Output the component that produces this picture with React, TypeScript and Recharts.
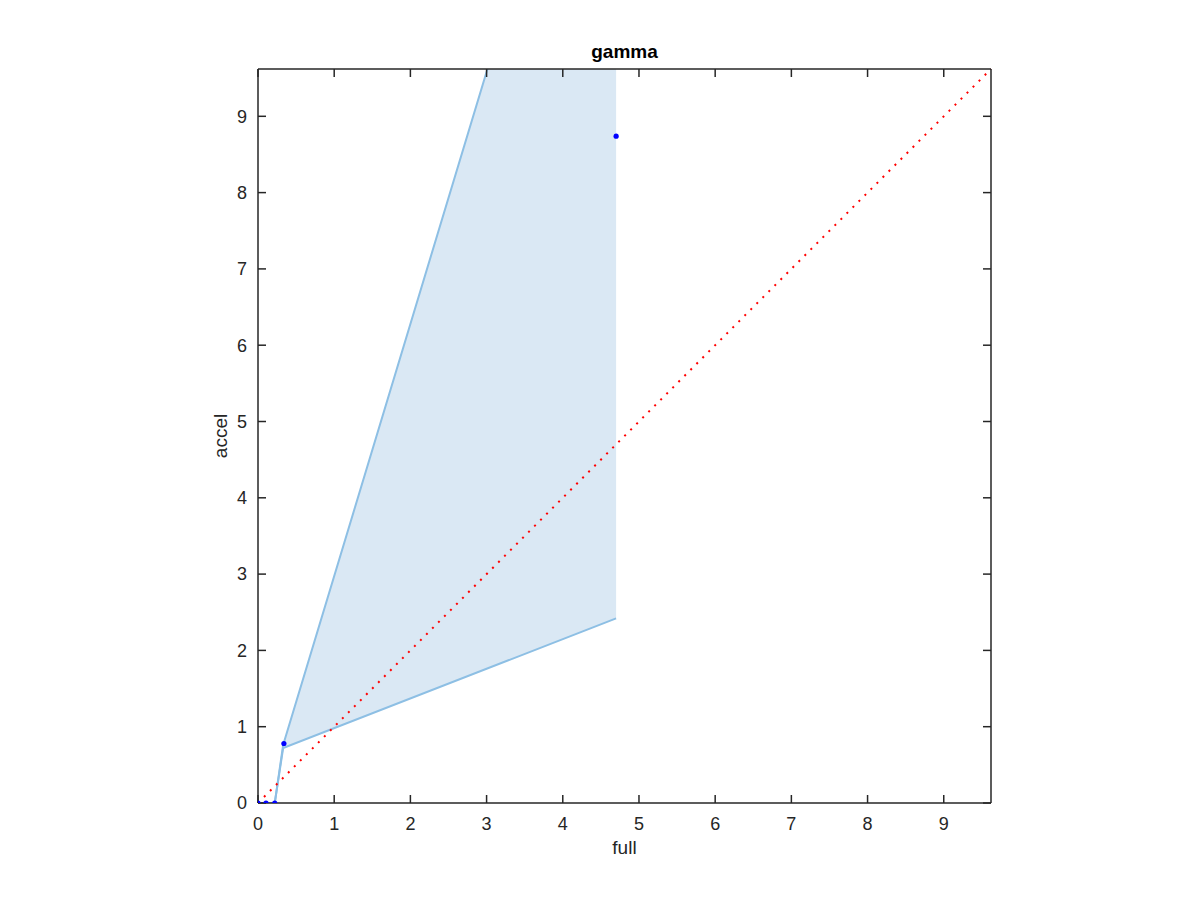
import {
  ComposedChart,
  XAxis,
  YAxis,
  Area,
  Line,
  Scatter,
  ReferenceLine,
} from 'recharts'

// band (confidence region)
const bandX = [0, 0.105, 0.22, 0.33, 4.7]
const bandLower = [0, 0, 0, 0.72, 2.42]
const bandUpper = [0, 0, 0, 0.76, 15.2]

// measured points
const pointX = [0, 0.105, 0.22, 0.34, 4.7]
const pointY = [0, 0, 0, 0.78, 8.74]

const ticks = [0, 1, 2, 3, 4, 5, 6, 7, 8, 9]
const axisMax = 9.62

const bandData = bandX.map((x, i) => ({ x, lo: bandLower[i], hi: bandUpper[i], range: [bandLower[i], bandUpper[i]] }))
const pointData = pointX.map((x, i) => ({ x, y: pointY[i] }))

const font = '"Liberation Sans", Arial, sans-serif'
const axisColor = '#262626'
const tickStyle = { fontSize: 18, fill: '#262626', fontFamily: font }

export default function App() {
  return (
    <div style={{ position: 'absolute', left: 0, top: 0, width: 1200, height: 900, background: '#fff' }}>
      <ComposedChart
        width={1200}
        height={900}
        data={bandData}
        margin={{ top: 59, left: 218, right: 199, bottom: 67 }}
      >
        <XAxis
          xAxisId="b"
          type="number"
          dataKey="x"
          domain={[0, axisMax]}
          ticks={ticks}
          allowDataOverflow
          height={30}
          stroke={axisColor}
          strokeWidth={1.5}
          tickSize={-8}
          tickMargin={22}
          tick={tickStyle}
          label={{ value: 'full', position: 'insideBottom', offset: -21, style: { fontSize: 19, fill: '#262626', fontFamily: font } }}
        />
        <XAxis
          xAxisId="t"
          orientation="top"
          type="number"
          dataKey="x"
          domain={[0, axisMax]}
          ticks={ticks}
          allowDataOverflow
          height={10}
          stroke={axisColor}
          strokeWidth={1.5}
          tickSize={-8}
          tickFormatter={() => ''}
          label={{ value: 'gamma', position: 'insideTop', offset: -14, style: { fontSize: 19, fontWeight: 'bold', fill: '#000', fontFamily: font } }}
        />
        <YAxis
          yAxisId="l"
          type="number"
          domain={[0, axisMax]}
          ticks={ticks}
          allowDataOverflow
          width={40}
          stroke={axisColor}
          strokeWidth={1.5}
          tickSize={-8}
          tickMargin={19}
          tick={tickStyle}
          label={{ value: 'accel', angle: -90, position: 'insideLeft', offset: 2, style: { fontSize: 19, fill: '#262626', fontFamily: font, textAnchor: 'middle' } }}
        />
        <YAxis
          yAxisId="r"
          orientation="right"
          type="number"
          domain={[0, axisMax]}
          ticks={ticks}
          allowDataOverflow
          width={10}
          stroke={axisColor}
          strokeWidth={1.5}
          tickSize={-8}
          tickFormatter={() => ''}
        />
        <Area
          xAxisId="b"
          yAxisId="l"
          dataKey="range"
          type="linear"
          fill="#dae8f4"
          fillOpacity={1}
          stroke="none"
          isAnimationActive={false}
        />
        <Line xAxisId="b" yAxisId="l" dataKey="lo" type="linear" stroke="#8dbfe4" strokeWidth={2} dot={false} isAnimationActive={false} />
        <Line xAxisId="b" yAxisId="l" dataKey="hi" type="linear" stroke="#8dbfe4" strokeWidth={2} dot={false} isAnimationActive={false} />
        <ReferenceLine
          xAxisId="b"
          yAxisId="l"
          segment={[{ x: 0, y: 0 }, { x: axisMax, y: axisMax }]}
          stroke="#ff0000"
          strokeWidth={2}
          strokeDasharray="2 6.5"
        />
        <Scatter
          xAxisId="b"
          yAxisId="l"
          data={pointData}
          dataKey="y"
          fill="#0000ff"
          shape={(p: any) => <circle cx={p.cx} cy={p.cy} r={2.6} fill="#0000ff" />}
          isAnimationActive={false}
        />
      </ComposedChart>
    </div>
  )
}
